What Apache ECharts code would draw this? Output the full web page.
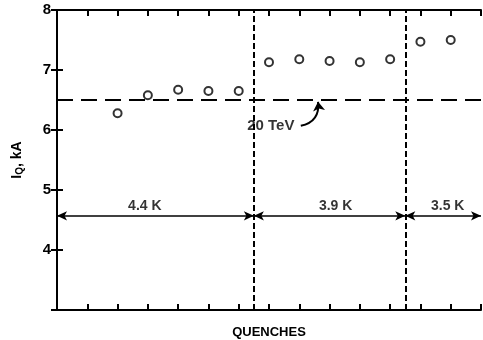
<!DOCTYPE html>
<html><head><meta charset="utf-8">
<script src="https://cdn.jsdelivr.net/npm/echarts@6/dist/echarts.min.js"></script>
<style>html,body{margin:0;padding:0;background:#fff}#c{width:483px;height:340px}</style>
</head><body><div id="c"></div>
<script>
// Data
const quenchX = [2, 3, 4, 5, 6, 7, 8, 9, 10, 11, 12, 13];
const currentKA = [6.28, 6.58, 6.67, 6.65, 6.65, 7.13, 7.18, 7.15, 7.13, 7.18, 7.47, 7.50];
const yTicks = [4, 5, 6, 7, 8];
const tevLevel = 6.5;
const tevLabel = '20 TeV';
const boundaries = [6.5, 11.5];
const tempRanges = [[0, 6.5], [6.5, 11.5], [11.5, 14]];
const tempLabels = ['4.4 K', '3.9 K', '3.5 K'];
const tempLabelX = [2.9, 9.2, 12.9];
const tempArrowY = 4.57;
const tevArrow = [[8.05, 6.07], [8.62, 6.47]];
const tevTextPos = [6.28, 6.07];

const F = '"Liberation Sans", Arial, sans-serif';
const chart = echarts.init(document.getElementById('c'));
const axisLine = {show: true, lineStyle: {color: '#000', width: 2}};
const tick = {show: true, inside: true, length: 6, lineStyle: {color: '#000', width: 2}};

chart.setOption({
  animation: false,
  grid: {left: 57, right: 2, top: 10, bottom: 30, containLabel: false, outerBoundsMode: 'none'},
  xAxis: [
    {type: 'value', min: 0, max: 14, interval: 1, position: 'bottom',
     axisLine, axisTick: tick, axisLabel: {show: false}, splitLine: {show: false},
     name: 'QUENCHES', nameLocation: 'middle', nameGap: 16,
     nameTextStyle: {fontFamily: F, fontWeight: 'bold', fontSize: 13, color: '#000'}},
    {type: 'value', min: 0, max: 14, interval: 1, position: 'top',
     axisLine, axisTick: tick, axisLabel: {show: false}, splitLine: {show: false}}
  ],
  yAxis: [
    {type: 'value', min: 3, max: 8, interval: 1, position: 'left',
     axisLine, axisTick: tick, splitLine: {show: false},
     axisLabel: {fontFamily: F, fontWeight: 'bold', fontSize: 15, color: '#000', margin: 6,
       formatter: v => yTicks.includes(v) ? String(v) : ''},
     name: '{a|I}{b|Q}{a|, kA}', nameLocation: 'middle', nameRotate: 90, nameGap: 32,
     nameTextStyle: {rich: {
       a: {fontFamily: F, fontWeight: 'bold', fontSize: 14, color: '#000'},
       b: {fontFamily: F, fontWeight: 'bold', fontSize: 10, color: '#000', padding: [6, 0, 0, 0]}
     }}},
    {type: 'value', min: 3, max: 8, interval: 1, position: 'right',
     axisLine: {show: true, lineStyle: {color: '#000', width: 1.5}}, axisTick: tick,
     axisLabel: {show: false}, splitLine: {show: false}}
  ],
  series: [
    {type: 'scatter', data: quenchX.map((x, i) => [x, currentKA[i]]),
     symbol: 'circle', symbolSize: 8,
     itemStyle: {color: '#fff', borderColor: '#000', borderWidth: 2}, z: 5},
    {type: 'line', data: [], silent: true,
     markLine: {silent: true, symbol: 'none', label: {show: false},
       data: [
         [{coord: [0, tevLevel], lineStyle: {type: [16, 8], width: 2, color: '#000'}}, {coord: [14, tevLevel]}],
         ...boundaries.map(b => [{coord: [b, 3], lineStyle: {type: [6, 3], width: 2, color: '#000'}}, {coord: [b, 8]}])
       ]}},
    {type: 'line', data: [], silent: true,
     markLine: {silent: true, symbol: ['arrow', 'arrow'], symbolSize: [7, 10], label: {show: false},
       lineStyle: {type: 'solid', width: 1.5, color: '#000'},
       data: tempRanges.map(r => [{coord: [r[0], tempArrowY]}, {coord: [r[1], tempArrowY]}])}},
    {type: 'lines', coordinateSystem: 'cartesian2d', silent: true,
     symbol: ['none', 'arrow'], symbolSize: 9,
     lineStyle: {type: 'solid', width: 2, color: '#000', curveness: -0.45, opacity: 1},
     data: [{coords: tevArrow}]},
    {type: 'scatter', symbolSize: 0, silent: true,
     data: tempLabels.map((t, i) => ({value: [tempLabelX[i], tempArrowY], name: t})),
     label: {show: true, position: 'top', distance: 3, formatter: p => p.name,
       fontFamily: F, fontWeight: 'bold', fontSize: 14, color: '#000'}},
    {type: 'scatter', symbolSize: 0, silent: true,
     data: [{value: tevTextPos, name: tevLabel}],
     label: {show: true, position: 'right', distance: 0, formatter: p => p.name,
       fontFamily: F, fontWeight: 'bold', fontSize: 15, color: '#000'}}
  ]
});
</script></body></html>
